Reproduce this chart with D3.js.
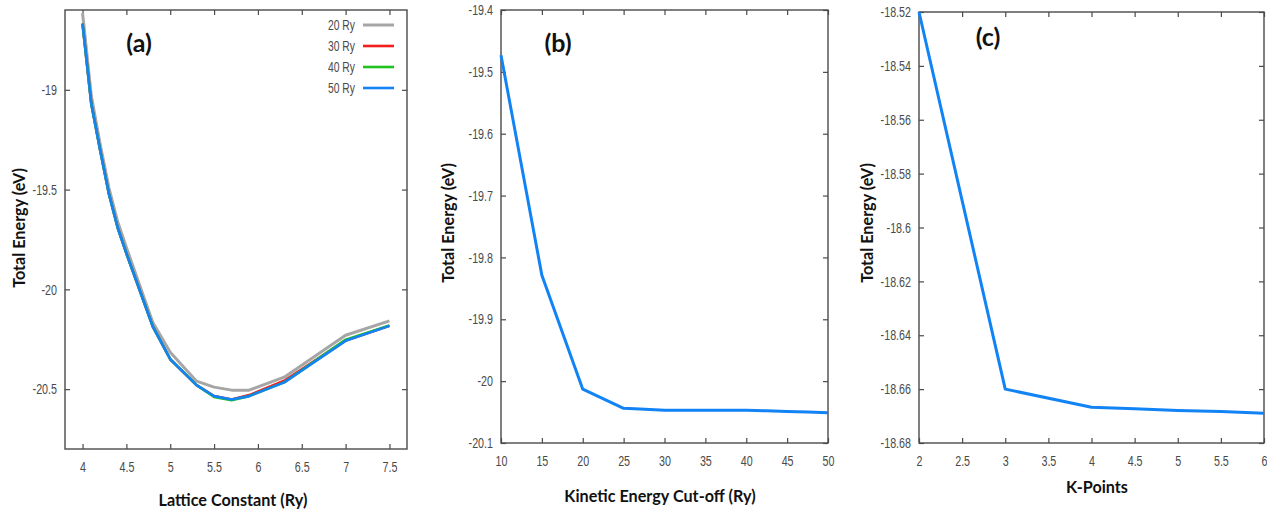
<!DOCTYPE html>
<html>
<head>
<meta charset="utf-8">
<script src="https://cdn.jsdelivr.net/npm/d3@7"></script>
<style>
  html, body { margin: 0; padding: 0; background: #fff; }
  svg { display: block; }
  .tick-label { font-family: "Liberation Sans", Arial, sans-serif; font-size: 14.5px; fill: #4a4a4a; }
  .axis-title { font-family: Lato, "Open Sans", sans-serif; font-weight: 700; font-size: 16.2px; fill: #111; }
  .panel-tag { font-family: Lato, "Open Sans", sans-serif; font-weight: 700; font-size: 25px; fill: #111; }
</style>
</head>
<body>
<svg id="fig" width="1267" height="512"></svg>
<script>
// ---- (a) energy vs lattice constant for four cut-offs ----
const latticeConst = [4.0, 4.1, 4.2, 4.3, 4.4, 4.5, 4.8, 5.0, 5.3, 5.5, 5.7, 5.9, 6.3, 7.0, 7.5];
const energy20Ry = [-18.615, -19.03, -19.27, -19.49, -19.66, -19.79, -20.165, -20.315, -20.46, -20.49, -20.505, -20.505, -20.44, -20.23, -20.158];
const energy30Ry = [-18.668, -19.07, -19.30, -19.52, -19.69, -19.82, -20.185, -20.35, -20.48, -20.535, -20.552, -20.530, -20.458, -20.256, -20.182];
const energy40Ry = [-18.668, -19.07, -19.30, -19.52, -19.69, -19.82, -20.185, -20.35, -20.48, -20.539, -20.556, -20.535, -20.466, -20.252, -20.181];
const energy50Ry = [-18.668, -19.07, -19.30, -19.52, -19.69, -19.82, -20.185, -20.35, -20.48, -20.535, -20.552, -20.535, -20.466, -20.258, -20.183];
const seriesNamesA = ["20 Ry", "30 Ry", "40 Ry", "50 Ry"];
const xTicksA = [4, 4.5, 5, 5.5, 6, 6.5, 7, 7.5];
const yTicksA = [-19, -19.5, -20, -20.5];

// ---- (b) energy vs kinetic energy cut-off ----
const cutoff = [10, 15, 20, 25, 27, 30, 35, 40, 42.5, 45, 47.5, 50];
const energyCutoff = [-19.473, -19.829, -20.013, -20.044, -20.045, -20.047, -20.047, -20.047, -20.048, -20.049, -20.050, -20.051];
const xTicksB = [10, 15, 20, 25, 30, 35, 40, 45, 50];
const yTicksB = [-19.4, -19.5, -19.6, -19.7, -19.8, -19.9, -20, -20.1];

// ---- (c) energy vs k-points ----
const kPoints = [2, 3, 4, 4.5, 5, 5.5, 6];
const energyK = [-18.52, -18.66, -18.6667, -18.6673, -18.6679, -18.6683, -18.669];
const xTicksC = [2, 2.5, 3, 3.5, 4, 4.5, 5, 5.5, 6];
const yTicksC = [-18.52, -18.54, -18.56, -18.58, -18.6, -18.62, -18.64, -18.66, -18.68];

const svg = d3.select("#fig");
svg.append("rect").attr("width", 1267).attr("height", 512).attr("fill", "#fff");

const frameColor = "#4a4a4a";
const narrow = 0.74; // horizontal squeeze for the condensed tick lettering

// squeeze a text horizontally while keeping its anchor point in place
function condense(sel) {
  sel.each(function () {
    const t = d3.select(this);
    const x0 = +(t.attr("x") || 0);
    t.attr("x", x0 / narrow).attr("transform", `scale(${narrow},1)`);
  });
}

function drawPanel(p) {
  const g = svg.append("g");
  const x = d3.scaleLinear().domain(p.xDomain).range([p.left, p.right]);
  const y = d3.scaleLinear().domain(p.yDomain).range([p.bottom, p.top]);
  const tickLen = 5;

  // mirrored inward ticks on all four sides
  const bottomAxis = d3.axisBottom(x).tickValues(p.xTicks).tickSize(-tickLen).tickPadding(13).tickFormat(d => String(d));
  const topAxis = d3.axisTop(x).tickValues(p.xTicks).tickSize(-tickLen).tickFormat("");
  const leftAxis = d3.axisLeft(y).tickValues(p.yTicks).tickSize(-tickLen).tickPadding(8).tickFormat(d => String(d));
  const rightAxis = d3.axisRight(y).tickValues(p.yTicks).tickSize(-tickLen).tickFormat("");

  const axes = [
    [bottomAxis, `translate(0,${p.bottom})`, true],
    [topAxis, `translate(0,${p.top})`, false],
    [leftAxis, `translate(${p.left},0)`, true],
    [rightAxis, `translate(${p.right},0)`, false]
  ];
  axes.forEach(([ax, tr, labelled]) => {
    const a = g.append("g").attr("transform", tr).call(ax);
    a.select(".domain").remove();
    a.selectAll(".tick line").attr("stroke", frameColor).attr("stroke-width", 1.2);
    if (labelled) {
      a.selectAll(".tick text").attr("class", "tick-label").attr("fill", null).call(condense);
    } else {
      a.selectAll(".tick text").remove();
    }
    a.attr("font-family", null).attr("font-size", null);
  });

  g.append("rect")
    .attr("x", p.left).attr("y", p.top)
    .attr("width", p.right - p.left).attr("height", p.bottom - p.top)
    .attr("fill", "none").attr("stroke", frameColor).attr("stroke-width", 1.4);

  const line = d3.line().x(d => x(d[0])).y(d => y(d[1]));
  p.series.forEach(s => {
    g.append("path")
      .datum(p.xs.map((v, i) => [v, s.values[i]]))
      .attr("d", line)
      .attr("fill", "none")
      .attr("stroke", s.color)
      .attr("stroke-width", s.width)
      .attr("stroke-linejoin", "round");
  });

  // axis titles and panel tag
  g.append("text").attr("class", "axis-title")
    .attr("x", p.xTitlePos[0]).attr("y", p.xTitlePos[1])
    .attr("text-anchor", "middle").attr("dominant-baseline", "central")
    .text(p.xTitle);
  g.append("text").attr("class", "axis-title")
    .attr("transform", `translate(${p.yTitlePos[0]},${p.yTitlePos[1]}) rotate(-90)`)
    .attr("text-anchor", "middle").attr("dominant-baseline", "central")
    .text("Total Energy (eV)");
  g.append("text").attr("class", "panel-tag")
    .attr("x", p.tagPos[0]).attr("y", p.tagPos[1])
    .attr("text-anchor", "middle").attr("dominant-baseline", "central")
    .text(p.tag);

  return { g, x, y };
}

const colorsA = ["#a6a6a6", "#f21d1d", "#1fc21f", "#1283f5"];
const valuesA = [energy20Ry, energy30Ry, energy40Ry, energy50Ry];

const panelA = drawPanel({
  left: 65, right: 407, top: 10, bottom: 449,
  xDomain: [3.8, 7.7], yDomain: [-20.8, -18.6],
  xTicks: xTicksA, yTicks: yTicksA,
  xs: latticeConst,
  series: valuesA.map((v, i) => ({ values: v, color: colorsA[i], width: i === 0 ? 3 : 2.6 })),
  xTitle: "Lattice Constant (Ry)", xTitlePos: [233, 499],
  yTitlePos: [18, 228],
  tag: "(a)", tagPos: [139, 42]
});

// legend for (a)
const legend = panelA.g.append("g");
seriesNamesA.forEach((name, i) => {
  const yy = 25 + i * 21;
  legend.append("text").attr("class", "tick-label")
    .attr("x", 355).attr("y", yy).attr("text-anchor", "end").attr("dominant-baseline", "central")
    .style("font-size", "14px")
    .call(condense)
    .text(name);
  legend.append("line")
    .attr("x1", 363).attr("x2", 394).attr("y1", yy).attr("y2", yy)
    .attr("stroke", colorsA[i]).attr("stroke-width", i === 0 ? 3 : 2.6);
});

drawPanel({
  left: 501, right: 828, top: 10, bottom: 443,
  xDomain: [10, 50], yDomain: [-20.1, -19.4],
  xTicks: xTicksB, yTicks: yTicksB,
  xs: cutoff,
  series: [{ values: energyCutoff, color: "#1283f5", width: 3 }],
  xTitle: "Kinetic Energy Cut-off (Ry)", xTitlePos: [660, 495],
  yTitlePos: [447, 223],
  tag: "(b)", tagPos: [558, 42]
});

drawPanel({
  left: 919, right: 1264, top: 12, bottom: 443,
  xDomain: [2, 6], yDomain: [-18.68, -18.52],
  xTicks: xTicksC, yTicks: yTicksC,
  xs: kPoints,
  series: [{ values: energyK, color: "#1283f5", width: 3 }],
  xTitle: "K-Points", xTitlePos: [1097, 486],
  yTitlePos: [866, 223],
  tag: "(c)", tagPos: [988, 36]
});
</script>
</body>
</html>
